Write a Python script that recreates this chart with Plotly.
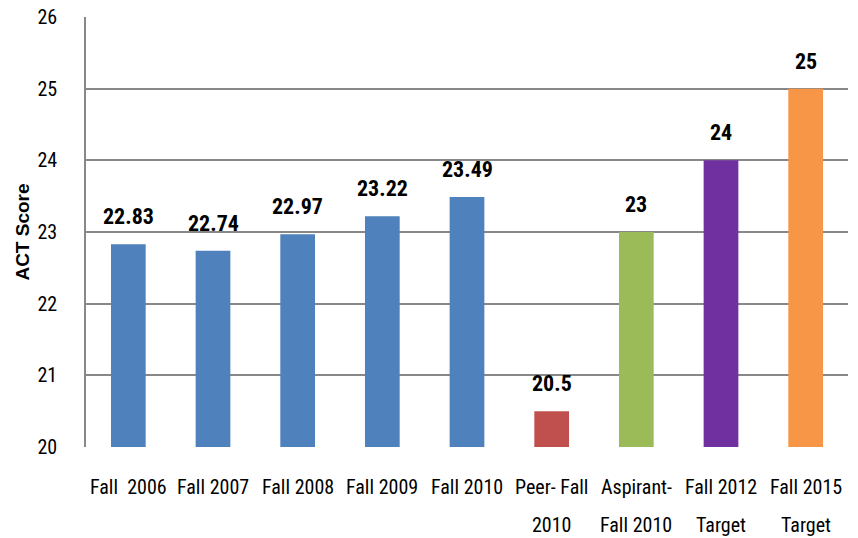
import plotly.graph_objects as go

categories = ["Fall  2006", "Fall 2007", "Fall 2008", "Fall 2009", "Fall 2010",
              "Peer- Fall<br>2010", "Aspirant-<br>Fall 2010", "Fall 2012<br>Target", "Fall 2015<br>Target"]
scores = [22.83, 22.74, 22.97, 23.22, 23.49, 20.5, 23, 24, 25]
labels = ["22.83", "22.74", "22.97", "23.22", "23.49", "20.5", "23", "24", "25"]
colors = ["#4F81BD"] * 5 + ["#C0504D", "#9BBB59", "#7030A0", "#F79646"]
yticks = [20, 21, 22, 23, 24, 25, 26]

FONT = "Liberation Sans Narrow, Roboto Condensed, Roboto, sans-serif"
BASE = 20

fig = go.Figure()
fig.add_trace(go.Bar(x=categories, y=[s - BASE for s in scores], base=BASE,
                     marker=dict(color=colors, line=dict(width=0)),
                     width=0.41, hoverinfo="skip"))

for c, s, t in zip(categories, scores, labels):
    fig.add_annotation(x=c, y=s, text="<b>%s</b>" % t, showarrow=False,
                       yanchor="bottom", yshift=13,
                       font=dict(family=FONT, size=22, color="black"))

# category labels (two lines with wide line spacing)
for c in categories:
    parts = c.split("<br>")
    for i, p in enumerate(parts):
        fig.add_annotation(x=c, xref="x", y=0, yref="paper", text=p, showarrow=False,
                           yanchor="middle", yshift=-40 - 38 * i,
                           font=dict(family=FONT, size=20, color="black"))

fig.update_layout(
    width=858, height=538,
    margin=dict(l=86, r=10, t=17, b=91),
    plot_bgcolor="white", paper_bgcolor="white",
    showlegend=False,
)
fig.update_xaxes(
    showgrid=False, showline=False, ticks="", showticklabels=False,
    automargin=False,
)
fig.update_yaxes(
    range=[20, 26], tickvals=yticks, ticktext=[str(v) for v in yticks],
    showgrid=True, gridcolor="#888888", gridwidth=1.5,
    showline=True, linecolor="#888888", linewidth=1.5,
    ticks="", zeroline=False, automargin=False,
    tickfont=dict(family=FONT, size=20, color="black"),
    ticklabelstandoff=23,
    title=dict(text="<b>ACT Score</b>",
               font=dict(family="Liberation Sans, Arial, sans-serif", size=19, color="black"),
               standoff=3),
)

fig.write_html("out.html", config={"displayModeBar": False},
               post_script="document.body.style.margin='0';document.body.style.overflow='hidden';")
